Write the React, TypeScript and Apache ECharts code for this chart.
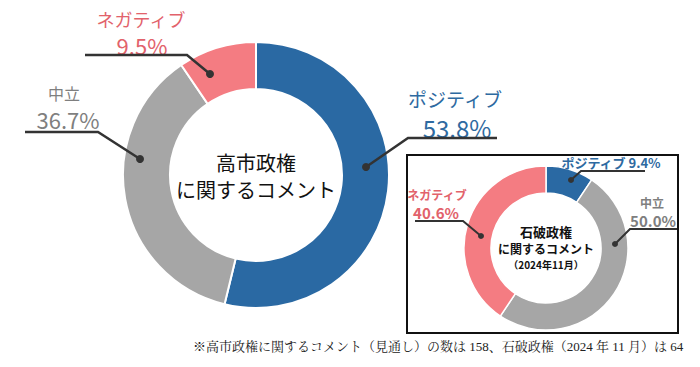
import React, { useEffect, useRef } from "react";
import * as echarts from "echarts";

const categories = ["ポジティブ", "中立", "ネガティブ"];
const takaichiValues = [53.8, 36.7, 9.5];
const ishibaValues = [9.4, 50.0, 40.6];
const sliceColors = ["#2a69a3", "#a6a6a6", "#f47c82"];
const labelColors = ["#2e6aa1", "#7f7f7f", "#e2626b"];
const mainTitle = ["高市政権", "に関するコメント"];
const insetTitle = ["石破政権", "に関するコメント", "（2024年11月）"];
const footnote = "※高市政権に関するコメント（見通し）の数は 158、石破政権（2024 年 11 月）は 64";

const JP = "'Noto Sans CJK JP', 'Noto Sans', sans-serif";
const pct = (v: number) => v.toFixed(1) + "%";

function txt(text: string, x: number, y: number, size: number, color: string, weight: string | number = "normal", align = "center", family = JP) {
  return {
    type: "text",
    x,
    y,
    z: 10,
    style: { text, fill: color, font: `${weight} ${size}px ${family}`, textAlign: align, textVerticalAlign: "middle" },
  };
}
function leader(points: number[][], dot: number[], r: number, w: number) {
  return [
    { type: "polyline", z: 10, shape: { points: [...points, dot] }, style: { stroke: "#333", lineWidth: w, fill: null } },
    { type: "circle", z: 10, shape: { cx: dot[0], cy: dot[1], r }, style: { fill: "#333" } },
  ];
}

export default function App() {
  const ref = useRef<HTMLDivElement>(null);
  useEffect(() => {
    document.body.style.margin = "0";
    const chart = echarts.init(ref.current!, null, { renderer: "svg" });
    const mk = (vals: number[]) =>
      vals.map((v, i) => ({ name: categories[i], value: v, itemStyle: { color: sliceColors[i] } }));
    chart.setOption({
      animation: false,
      backgroundColor: "#fff",
      series: [
        {
          type: "pie",
          center: [256, 175],
          radius: [86, 133],
          startAngle: 90,
          clockwise: true,
          silent: true,
          label: { show: false },
          labelLine: { show: false },
          itemStyle: { borderColor: "#fff", borderWidth: 2 },
          data: mk(takaichiValues),
        },
        {
          type: "pie",
          center: [546, 248],
          radius: [55, 82],
          startAngle: 90,
          clockwise: true,
          silent: true,
          label: { show: false },
          labelLine: { show: false },
          itemStyle: { borderColor: "#fff", borderWidth: 1.5 },
          data: mk(ishibaValues),
        },
      ],
      graphic: [
        { type: "rect", z: 5, shape: { x: 407, y: 155, width: 271, height: 178 }, style: { fill: null, stroke: "#111", lineWidth: 2 } },
        txt(mainTitle[0], 256, 162, 20, "#111"),
        txt(mainTitle[1], 256, 189, 20, "#111"),
        // main labels
        txt(categories[0], 455, 98, 19, labelColors[0]),
        txt(pct(takaichiValues[0]), 457, 127, 24, labelColors[0]),
        txt(categories[2], 141, 19, 18, labelColors[2]),
        txt(pct(takaichiValues[2]), 142, 45, 22, labelColors[2]),
        txt(categories[1], 64, 93, 16, labelColors[1]),
        txt(pct(takaichiValues[1]), 68, 119, 22, labelColors[1]),
        ...leader([[497, 138], [408, 138]], [366, 167], 4, 2.5),
        ...leader([[85, 55], [187, 55]], [210, 74], 4, 2.5),
        ...leader([[25, 132], [98, 132]], [140, 159], 4, 2.5),
        // inset
        txt(insetTitle[0], 546, 231, 13, "#111", "bold"),
        txt(insetTitle[1], 546, 248, 12, "#111", "bold"),
        txt(insetTitle[2], 546, 264, 10, "#111", "bold"),
        txt(categories[0] + " " + pct(ishibaValues[0]), 611, 162, 13, labelColors[0], "bold"),
        txt(categories[2], 437, 194, 12, labelColors[2], "bold"),
        txt(pct(ishibaValues[2]), 436, 212, 15, labelColors[2], "bold"),
        txt(categories[1], 652, 202, 12, labelColors[1], "bold"),
        txt(pct(ishibaValues[1]), 653, 220, 15, labelColors[1], "bold"),
        ...leader([[645, 171], [581, 171]], [571, 180], 3, 2),
        ...leader([[677, 229], [630, 229]], [615, 244], 3, 2),
        ...leader([[415, 221], [463, 221]], [481, 236], 3, 2),
        txt(footnote, 193, 346, 13, "#222", "normal", "left", "'Liberation Serif', 'Noto Serif CJK JP', 'Noto Sans CJK JP', serif"),
      ],
    });
    return () => chart.dispose();
  }, []);
  return <div ref={ref} style={{ width: 700, height: 367 }} />;
}
